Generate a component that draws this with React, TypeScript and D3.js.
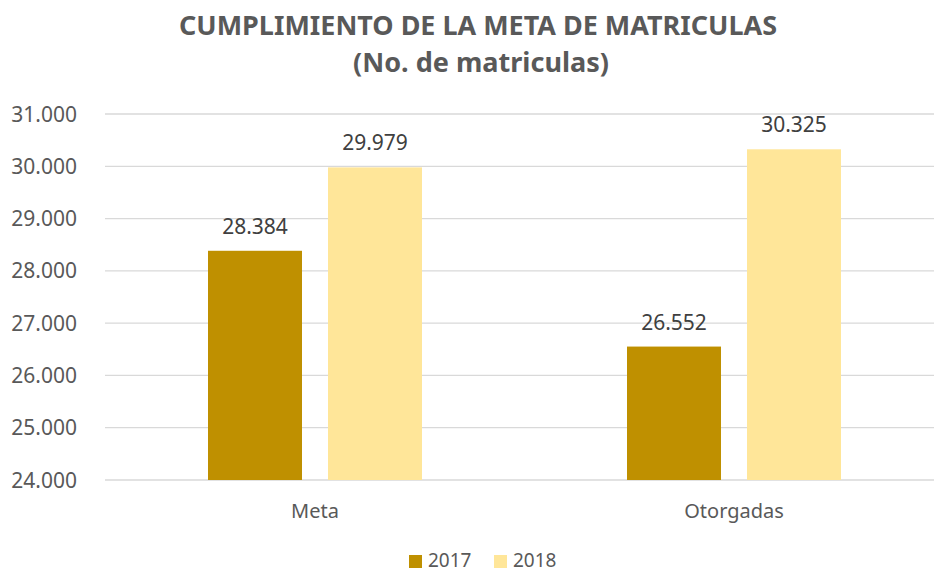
import React from 'react';
import * as d3 from 'd3';

// chart data
const categories = ['Meta', 'Otorgadas'];
const seriesNames = ['2017', '2018'];
const values2017 = [28384, 26552];
const values2018 = [29979, 30325];
const yTicks = [24000, 25000, 26000, 27000, 28000, 29000, 30000, 31000];
const titleLines = ['CUMPLIMIENTO DE LA META DE MATRICULAS', '(No. de matriculas)'];

const colors: Record<string, string> = { '2017': '#BF9000', '2018': '#FFE699' };
const font = '"Noto Sans", sans-serif';

const width = 934;
const height = 574;

const App = () => {
    const x0 = d3.scaleBand().domain(categories).range([105.5, 943.5]);
    const bw = x0.bandwidth();
    // inner band: bars 94px with 26px gap, centred in the category
    const x1 = d3.scaleBand()
        .domain(seriesNames)
        .range([bw / 2 - 120, bw / 2 + 120])
        .paddingInner(26 / 120)
        .paddingOuter(13 / 120);
    const y = d3.scaleLinear().domain([24000, 31000]).range([480, 114]);
    const fmt = (v: number) => d3.format(',')(v).replace(/,/g, '.');

    const rows = categories.map((c, i) => ({
        category: c,
        items: [
            { name: '2017', value: values2017[i] },
            { name: '2018', value: values2018[i] }
        ]
    }));

    return (
        <div style={{ position: 'absolute', left: 0, top: 0, width, height, overflow: 'hidden', background: '#fff' }}>
            <svg width={width} height={height} style={{ display: 'block' }} fontFamily={font}>
                <rect width={width} height={height} fill="#fff" />

                {/* title */}
                <text x={478} y={35} textAnchor="middle" fontWeight="bold" fontSize={27} fill="#595959"
                    textLength={598} lengthAdjust="spacingAndGlyphs">{titleLines[0]}</text>
                <text x={481} y={72} textAnchor="middle" fontWeight="bold" fontSize={27} fill="#595959"
                    textLength={256} lengthAdjust="spacingAndGlyphs">{titleLines[1]}</text>

                {/* gridlines and y labels */}
                {yTicks.map(t => (
                    <g key={t}>
                        <line x1={105} x2={width} y1={y(t)} y2={y(t)} stroke="#d9d9d9" strokeWidth={1.3} />
                        <text x={77} y={y(t)} dy="0.36em" textAnchor="end" fontSize={21} fill="#595959">{fmt(t)}</text>
                    </g>
                ))}

                {/* bars */}
                {rows.map(r => (
                    <g key={r.category} transform={`translate(${x0(r.category)},0)`}>
                        {r.items.map(d => (
                            <g key={d.name}>
                                <rect x={x1(d.name)} y={y(d.value)} width={x1.bandwidth()} height={y(24000) - y(d.value)}
                                    fill={colors[d.name]} />
                                <text x={(x1(d.name) || 0) + x1.bandwidth() / 2} y={y(d.value) - 17} textAnchor="middle"
                                    fontSize={21} fill="#404040">{fmt(d.value)}</text>
                            </g>
                        ))}
                        <text x={bw / 2} y={518} textAnchor="middle" fontSize={20} fill="#595959">{r.category}</text>
                    </g>
                ))}

                {/* legend */}
                {seriesNames.map((s, i) => (
                    <g key={s} transform={`translate(${409 + i * 85},555)`}>
                        <rect width={13} height={13} fill={colors[s]} />
                        <text x={19} y={12} fontSize={19} fill="#595959">{s}</text>
                    </g>
                ))}
            </svg>
        </div>
    );
};

export default App;
